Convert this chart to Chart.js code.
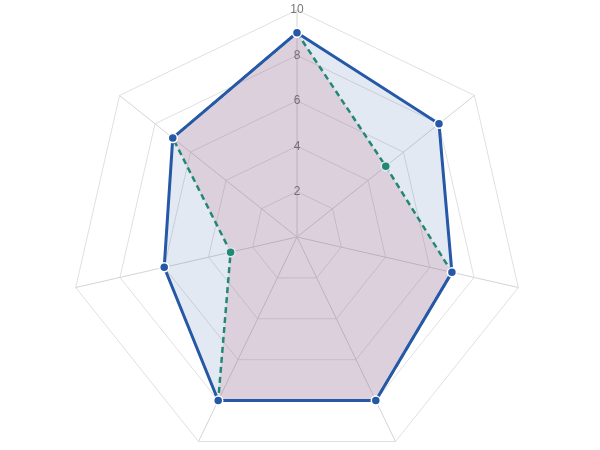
<!DOCTYPE html>
<html>
<head>
<meta charset="utf-8">
<script src="https://cdn.jsdelivr.net/npm/chart.js@4"></script>
<style>
  html, body { margin: 0; padding: 0; background: #fff; overflow: hidden; }
  #wrap { position: relative; left: -3px; top: 2px; width: 600px; height: 471px; }
</style>
</head>
<body>
<div id="wrap"><canvas id="radarChart"></canvas></div>
<script>
// axes (labels are not shown in the picture)
const categories = ['A', 'B', 'C', 'D', 'E', 'F', 'G'];
const seriesA = [9, 8, 7, 8, 8, 6, 7];
const seriesB = [9, 5, 7, 8, 8, 3, 7];
const tickStep = 2;
const tickMax = 10;

document.addEventListener('DOMContentLoaded', function () {
    const ctx = document.getElementById('radarChart').getContext('2d');

    new Chart(ctx, {
        type: 'radar',
        data: {
            labels: categories,
            datasets: [
                {
                    label: 'Series A',
                    data: seriesA,
                    borderColor: '#2558a6',
                    backgroundColor: 'rgba(37, 88, 166, 0.13)',
                    borderWidth: 3,
                    fill: true,
                    pointRadius: 4.5,
                    pointBackgroundColor: '#2558a6',
                    pointBorderColor: '#fff',
                    pointBorderWidth: 1.5,
                    order: 1
                },
                {
                    label: 'Series B',
                    data: seriesB,
                    borderColor: '#23906c',
                    backgroundColor: 'rgba(205, 70, 85, 0.15)',
                    borderWidth: 2.5,
                    borderDash: [6, 4],
                    fill: true,
                    pointRadius: 4.5,
                    pointBackgroundColor: '#23906c',
                    pointBorderColor: '#fff',
                    pointBorderWidth: 1.5,
                    order: 2
                }
            ]
        },
        options: {
            responsive: true,
            maintainAspectRatio: false,
            animation: false,
            plugins: {
                legend: { display: false },
                tooltip: { enabled: false }
            },
            scales: {
                r: {
                    min: 0,
                    max: tickMax,
                    grid: { color: '#e0e0e0' },
                    angleLines: { color: '#d4d4d4' },
                    pointLabels: { display: false },
                    ticks: {
                        stepSize: tickStep,
                        showLabelBackdrop: false,
                        color: '#777',
                        font: { family: 'Liberation Sans', size: 12 }
                    }
                }
            }
        }
    });
});
</script>
</body>
</html>
